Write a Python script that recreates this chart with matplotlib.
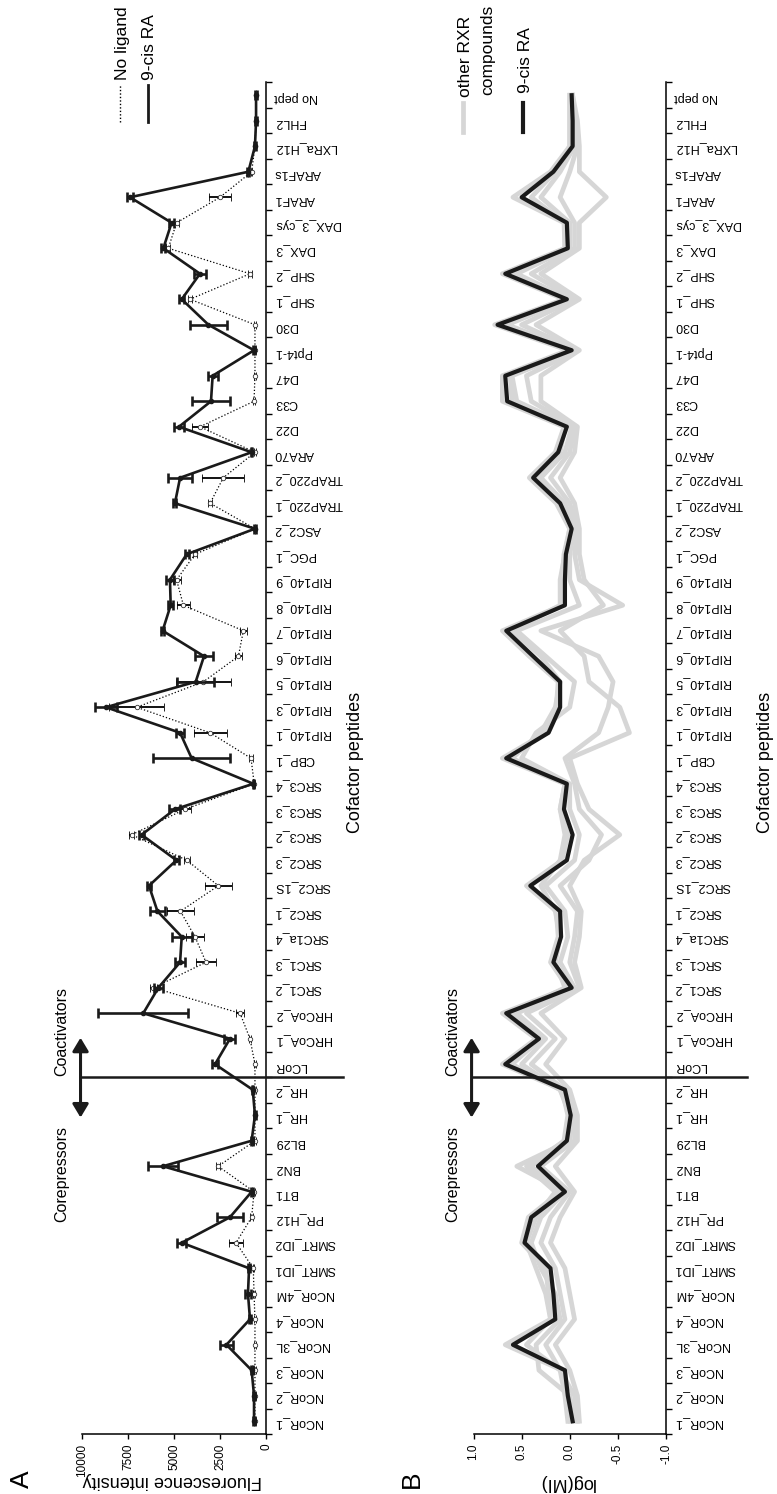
import matplotlib
matplotlib.use("Agg")
import matplotlib.pyplot as plt
from matplotlib.transforms import blended_transform_factory
from matplotlib.patches import FancyArrowPatch
import numpy as np

plt.rcParams['font.family'] = ['Liberation Sans', 'DejaVu Sans']

# ---------------- data ----------------
cofactors = [
    "NCoR_1", "NCoR_2", "NCoR_3", "NCoR_3L", "NCoR_4", "NCoR_4M", "SMRT_ID1",
    "SMRT_ID2", "PR_H12", "BT1", "BN2", "BL29", "HR_1", "HR_2", "LCoR",
    "HRCoA_1", "HRCoA_2", "SRC1_2", "SRC1_3", "SRC1a_4", "SRC2_1", "SRC2_1S",
    "SRC2_3", "SRC3_2", "SRC3_3", "SRC3_4", "CBP_1", "RIP140_1", "RIP140_3",
    "RIP140_5", "RIP140_6", "RIP140_7", "RIP140_8", "RIP140_9", "PGC_1",
    "ASC2_2", "TRAP220_1", "TRAP220_2", "ARA70", "D22", "C33", "D47", "Ppt4-1",
    "D30", "SHP_1", "SHP_2", "DAX_3", "DAX_3_cys", "ARAF1", "ARAF1s",
    "LXRa_H12", "FHL2", "No pept",
]

# Panel A: fluorescence intensity
cis_ra_fluor = [650, 650, 780, 2150, 870, 980, 920, 4580, 1960, 780, 5600, 780,
                600, 720, 2770, 1960, 6670, 5850, 4670, 4580, 5900, 6360, 4870,
                6760, 4950, 690, 4040, 4670, 8700, 3820, 3370, 5620, 5180, 5220,
                4310, 600, 4950, 4670, 780, 4730, 2990, 2900, 650, 3130, 4580,
                3590, 5580, 5130, 7390, 960, 600, 540, 540]
cis_ra_fluor_err = [60, 60, 60, 350, 60, 150, 60, 250, 700, 60, 800, 50,
                    40, 40, 150, 300, 2450, 250, 250, 550, 400, 100, 150,
                    150, 300, 40, 2100, 200, 580, 1000, 500, 100, 150, 200,
                    100, 40, 80, 650, 40, 270, 1050, 270, 40, 1000, 150,
                    350, 100, 150, 150, 60, 40, 40, 40]
no_ligand_fluor = [600, 600, 600, 600, 600, 650, 690, 1630, 780, 650, 2600, 600,
                   600, 600, 600, 870, 1410, 6120, 3260, 3860, 4650, 2590, 4300,
                   7300, 4400, 640, 815, 3040, 7030, 3400, 1500, 1230, 4490, 4860,
                   3860, 600, 3040, 2320, 600, 3590, 650, 600, 600, 600, 4130,
                   870, 5310, 4860, 2500, 780, 600, 540, 540]
no_ligand_fluor_err = [40, 40, 40, 60, 40, 40, 40, 400, 100, 40, 100, 40,
                       40, 40, 40, 60, 220, 200, 550, 500, 750, 730, 150,
                       150, 300, 40, 100, 900, 1500, 1500, 200, 180, 360, 220,
                       100, 40, 100, 1150, 40, 450, 40, 40, 40, 40, 100,
                       100, 100, 150, 600, 40, 40, 40, 40]

# Panel B: log(MI)
cis_ra_logmi = [-0.03, 0.02, 0.05, 0.59, 0.15, 0.17, 0.20, 0.47, 0.40, 0.05, 0.33,
                0.03, -0.01, 0.05, 0.67, 0.32, 0.66, -0.02, 0.17, 0.09, 0.10, 0.41,
                0.03, -0.03, 0.06, 0.03, 0.66, 0.22, 0.10, 0.10, 0.38, 0.66, 0.05,
                0.05, 0.04, -0.02, 0.10, 0.38, 0.12, 0.03, 0.65, 0.67, -0.02, 0.75,
                0.03, 0.67, 0.02, 0.03, 0.50, 0.17, -0.03, -0.03, -0.02]
rxr_cpd_1 = [0.00, 0.03, 0.08, 0.67, 0.20, 0.22, 0.25, 0.50, 0.43, 0.10, 0.40,
             0.06, 0.02, 0.08, 0.70, 0.35, 0.70, 0.02, 0.20, 0.12, 0.14, 0.45,
             0.08, 0.02, 0.10, 0.05, 0.70, 0.25, 0.14, 0.12, 0.42, 0.70, 0.08,
             0.08, 0.06, 0.00, 0.14, 0.42, 0.15, 0.06, 0.70, 0.70, 0.02, 0.78,
             0.06, 0.70, 0.05, 0.06, 0.59, 0.20, 0.00, 0.00, 0.00]
rxr_cpd_2 = [-0.05, 0.00, 0.32, 0.35, 0.10, 0.15, 0.30, 0.40, 0.30, 0.05, 0.55,
             0.00, -0.03, 0.10, 0.50, 0.25, 0.55, -0.05, 0.10, 0.02, 0.05, 0.25,
             -0.05, -0.10, 0.00, 0.00, 0.50, 0.35, 0.00, -0.05, 0.25, 0.55, -0.10,
             0.00, 0.00, -0.05, 0.05, 0.30, 0.05, -0.02, 0.55, 0.60, -0.05, 0.65,
             0.00, 0.55, 0.00, 0.00, 0.30, 0.10, -0.05, -0.05, -0.02]
rxr_cpd_3 = [-0.08, -0.05, 0.10, 0.25, 0.05, 0.10, 0.15, 0.30, 0.20, 0.00, 0.30,
             -0.05, -0.05, 0.05, 0.40, 0.15, 0.45, -0.10, 0.00, -0.05, -0.08, 0.10,
             -0.20, -0.33, -0.10, -0.05, 0.05, -0.30, -0.40, -0.45, -0.30, 0.30, -0.55,
             -0.10, -0.05, -0.08, 0.00, 0.20, 0.00, -0.05, 0.40, 0.45, -0.08, 0.50,
             -0.05, 0.40, -0.05, -0.05, 0.10, 0.00, -0.08, -0.05, -0.03]
rxr_cpd_4 = [-0.10, -0.08, 0.00, 0.15, -0.05, 0.00, 0.05, 0.20, 0.10, -0.05, 0.15,
             -0.08, -0.08, 0.00, 0.25, 0.05, 0.30, -0.12, -0.05, -0.10, -0.12, 0.00,
             -0.15, -0.52, -0.20, -0.08, 0.00, -0.62, -0.52, -0.20, -0.15, 0.10, -0.35,
             -0.15, -0.10, -0.10, -0.05, 0.10, -0.05, -0.08, 0.30, 0.30, -0.10, 0.35,
             -0.10, 0.30, -0.10, -0.10, -0.38, -0.10, -0.10, -0.08, -0.03]
rxr_cpd_5 = [0.02, 0.05, 0.10, 0.45, 0.20, 0.25, 0.35, 0.45, 0.35, 0.15, 0.45,
             0.05, 0.00, 0.10, 0.60, 0.30, 0.60, 0.05, 0.15, 0.10, 0.15, 0.30,
             0.10, 0.05, 0.10, 0.05, 0.60, 0.30, 0.15, 0.10, 0.30, 0.60, 0.10,
             0.10, 0.05, 0.00, 0.10, 0.35, 0.10, 0.05, 0.60, 0.62, 0.00, 0.70,
             0.05, 0.60, 0.05, 0.05, 0.40, 0.15, 0.00, 0.00, 0.00]

# ---------------- figure ----------------
W, H = 777, 1494
fig = plt.figure(figsize=(W / 100, H / 100), dpi=100)


def rect(x0, y0, x1, y1):
    return [x0 / W, 1 - y1 / H, (x1 - x0) / W, (y1 - y0) / H]


def px(x, y):
    return x / W, 1 - y / H


n = len(cofactors)
pos = np.arange(n)
narrow = ['Liberation Sans Narrow', 'Liberation Sans', 'DejaVu Sans']

axA = fig.add_axes(rect(82, 82.5, 266, 1434))
axB = fig.add_axes(rect(473.5, 82.5, 666, 1434))


def style(ax, lim, ticks, ticklabels):
    ax.set_xlim(lim)
    ax.set_ylim(-0.5, n - 0.5)
    for s in ("top", "left"):
        ax.spines[s].set_visible(False)
    for s in ("bottom", "right"):
        ax.spines[s].set_linewidth(1.1)
    ax.yaxis.tick_right()
    ax.set_yticks(np.arange(-0.5, n, 1.0))
    ax.set_yticklabels([])
    ax.set_yticks(pos, labels=cofactors, minor=True)
    ax.tick_params(axis="y", which="major", direction="out", length=4.5, width=1)
    ax.tick_params(axis="y", which="minor", length=0, labelrotation=180,
                   labelsize=9, pad=6)
    ax.set_xticks(ticks, labels=ticklabels)
    ax.tick_params(axis="x", direction="out", length=3.5, width=1,
                   labelrotation=90, labelsize=8.5, pad=3.5)
    for lab in ax.get_xticklabels():
        lab.set_family(narrow)


style(axA, (10000, 0), [10000, 7500, 5000, 2500, 0],
      ["10000", "7500", "5000", "2500", "0"])
style(axB, (1.0, -1.0), [1.0, 0.5, 0.0, -0.5, -1.0],
      ["1.0", "0.5", "0.0", "-0.5", "-1.0"])

# Panel A series
axA.errorbar(no_ligand_fluor, pos, xerr=no_ligand_fluor_err, fmt=":o",
             color="black", lw=0.9, ms=3.2, mfc="white", mec="#333333", mew=0.6,
             elinewidth=1.3, capsize=3, capthick=1.3, zorder=2, clip_on=False)
axA.errorbar(cis_ra_fluor, pos, xerr=cis_ra_fluor_err, fmt="-o",
             color="#1a1a1a", lw=1.9, ms=3, elinewidth=1.9, capsize=3.5,
             capthick=1.9, zorder=3, clip_on=False)

# Panel B series
for series in (rxr_cpd_1, rxr_cpd_2, rxr_cpd_3, rxr_cpd_4, rxr_cpd_5):
    axB.plot(series, pos, color="#d6d6d6", lw=3.4, zorder=2, clip_on=False)
axB.plot(cis_ra_logmi, pos, color="#1a1a1a", lw=3.0, zorder=3, clip_on=False)

# Corepressor / coactivator divider and arrows
for ax, xa, xt in ((axA, -0.008, -0.11), (axB, -0.01, -0.11)):
    tr = blended_transform_factory(ax.transAxes, ax.transData)
    ax.plot([xa, 1.42], [13.5, 13.5], transform=tr, color="#1a1a1a", lw=1.8,
            clip_on=False, zorder=4)
    arr = FancyArrowPatch((xa, 11.8), (xa, 15.15), transform=tr,
                          arrowstyle="<|-|>,head_length=5,head_width=3",
                          mutation_scale=1.6, color="#1a1a1a", lw=2.2,
                          clip_on=False)
    ax.add_patch(arr)
    ax.text(xt, 13.55, "Coactivators", transform=tr, rotation=90,
            ha="center", va="bottom", fontsize=11.5)
    ax.text(xt, 7.8, "Corepressors", transform=tr, rotation=90,
            ha="center", va="bottom", fontsize=11.5)

# Axis titles
fig.text(*px(172, 1481), "Fluorescence intensity", rotation=180,
         ha="center", va="center", fontsize=13)
fig.text(*px(567, 1483), "log(MI)", rotation=180,
         ha="center", va="center", fontsize=13)
fig.text(*px(355, 762), "Cofactor peptides", rotation=90,
         ha="center", va="center", fontsize=13)
fig.text(*px(765, 762), "Cofactor peptides", rotation=90,
         ha="center", va="center", fontsize=13)
fig.text(*px(22, 1479), "A", rotation=90, ha="center", va="center",
         fontsize=19)
fig.text(*px(412, 1479), "B", rotation=90, ha="center", va="center",
         fontsize=19)

# Legends
fig.add_artist(plt.Line2D([120 / W, 120 / W], [1 - 122 / H, 1 - 85 / H],
                          color="black", lw=1.0, ls=(0, (1, 1.5))))
fig.add_artist(plt.Line2D([148 / W, 148 / W], [1 - 122 / H, 1 - 85 / H],
                          color="#1a1a1a", lw=2.0))
fig.text(*px(123, 80), "No ligand", rotation=90, ha="center", va="bottom",
         fontsize=12.5)
fig.text(*px(150, 80), "9-cis RA", rotation=90, ha="center", va="bottom",
         fontsize=12.5)

fig.add_artist(plt.Line2D([463 / W, 463 / W], [1 - 132 / H, 1 - 103 / H],
                          color="#d6d6d6", lw=3.4))
fig.add_artist(plt.Line2D([523 / W, 523 / W], [1 - 132 / H, 1 - 103 / H],
                          color="#1a1a1a", lw=3.0))
fig.text(*px(466, 97), "other RXR", rotation=90, ha="center", va="bottom",
         fontsize=12.5)
fig.text(*px(488, 95), "compounds", rotation=90, ha="center", va="bottom",
         fontsize=12.5)
fig.text(*px(525, 93), "9-cis RA", rotation=90, ha="center", va="bottom",
         fontsize=12.5)

fig.savefig("out.png", dpi=100)
